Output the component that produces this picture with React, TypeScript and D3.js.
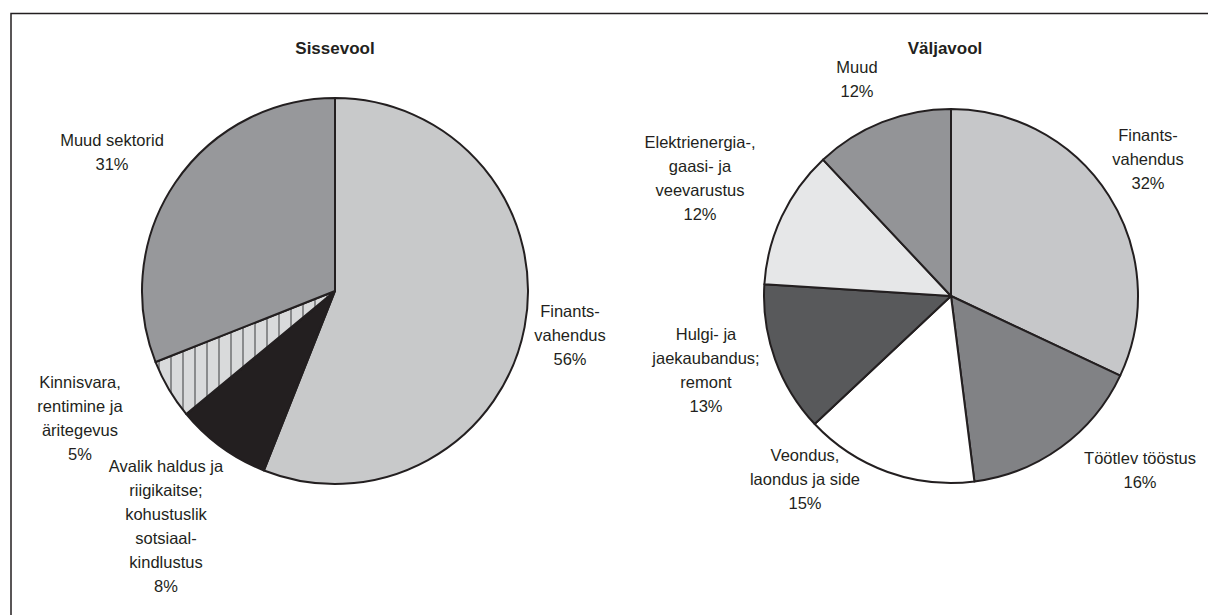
import React from "react";
import * as d3 from "d3";

// Sissevool (inflow)
const inCategories = [
  "Finants-\nvahendus",
  "Avalik haldus ja\nriigikaitse;\nkohustuslik\nsotsiaal-\nkindlustus",
  "Kinnisvara,\nrentimine ja\näritegevus",
  "Muud sektorid",
];
const inValues = [56, 8, 5, 31];

// Väljavool (outflow)
const outCategories = [
  "Finants-\nvahendus",
  "Töötlev tööstus",
  "Veondus,\nlaondus ja side",
  "Hulgi- ja\njaekaubandus;\nremont",
  "Elektrienergia-,\ngaasi- ja\nveevarustus",
  "Muud",
];
const outValues = [32, 16, 15, 13, 12, 12];

const inColors = ["#c8c9ca", "#231f20", "url(#hatch)", "#97989b"];
const outColors = ["#c6c7c9", "#818285", "#ffffff", "#58595b", "#e6e7e8", "#939497"];

// label anchor points (centre of the first line) for each slice
const inLabelPos: [number, number][] = [
  [570, 311],
  [166, 466],
  [80, 382],
  [112, 140],
];
const outLabelPos: [number, number][] = [
  [1148, 135],
  [1140, 458],
  [805, 455],
  [706, 334],
  [700, 142],
  [857, 67],
];

const W = 1208;
const H = 615;
const LINE_H = 24;
const INK = "#231f20";

type PieProps = {
  title: string;
  titleX: number;
  cx: number;
  cy: number;
  r: number;
  categories: string[];
  values: number[];
  colors: string[];
  labelPos: [number, number][];
};

const Pie: React.FC<PieProps> = ({
  title,
  titleX,
  cx,
  cy,
  r,
  categories,
  values,
  colors,
  labelPos,
}) => {
  const pie = d3
    .pie<number>()
    .sort(null)
    .value((d) => d);
  const arcs = pie(values);
  const arc = d3.arc<d3.PieArcDatum<number>>().innerRadius(0).outerRadius(r);

  return (
    <g>
      <text
        x={titleX}
        y={54}
        textAnchor="middle"
        fontSize={17}
        fontWeight="bold"
        fill={INK}
      >
        {title}
      </text>
      <g transform={`translate(${cx},${cy})`}>
        {arcs.map((a, i) => (
          <path
            key={i}
            d={arc(a) || ""}
            fill={colors[i]}
            stroke={INK}
            strokeWidth={2}
            strokeLinejoin="round"
          />
        ))}
      </g>
      {categories.map((c, i) => {
        const lines = [...c.split("\n"), `${values[i]}%`];
        const [lx, ly] = labelPos[i];
        return (
          <text
            key={i}
            x={lx}
            y={ly + 6}
            textAnchor="middle"
            fontSize={16.5}
            fill={INK}
          >
            {lines.map((l, j) => (
              <tspan key={j} x={lx} y={ly + 6 + j * LINE_H}>
                {l}
              </tspan>
            ))}
          </text>
        );
      })}
    </g>
  );
};

export default function App() {
  return (
    <svg
      width={W}
      height={H}
      style={{ position: "absolute", left: 0, top: 0, background: "#fff" }}
      fontFamily="Liberation Sans, Arial, sans-serif"
    >
      <defs>
        <pattern
          id="hatch"
          patternUnits="userSpaceOnUse"
          width={12}
          height={12}
          x={3}
        >
          <rect width={12} height={12} fill="#d9dadb" />
          <line x1={1} y1={0} x2={1} y2={12} stroke="#555658" strokeWidth={1.2} />
        </pattern>
      </defs>
      <rect x={0} y={0} width={W} height={H} fill="#fff" />
      <rect
        x={11}
        y={13.5}
        width={W + 50}
        height={H + 50}
        fill="none"
        stroke={INK}
        strokeWidth={1.5}
      />
      <Pie
        title="Sissevool"
        titleX={335}
        cx={335}
        cy={291}
        r={193}
        categories={inCategories}
        values={inValues}
        colors={inColors}
        labelPos={inLabelPos}
      />
      <Pie
        title="Väljavool"
        titleX={945}
        cx={951}
        cy={296}
        r={187}
        categories={outCategories}
        values={outValues}
        colors={outColors}
        labelPos={outLabelPos}
      />
    </svg>
  );
}
